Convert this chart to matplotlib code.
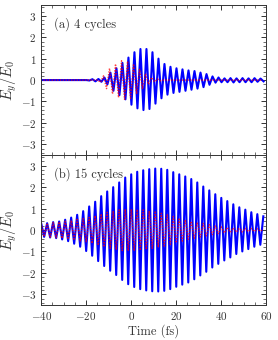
import numpy as np
import matplotlib
matplotlib.use("Agg")
import matplotlib.pyplot as plt
from matplotlib.ticker import MultipleLocator

plt.rcParams['font.family'] = 'serif'
plt.rcParams['font.serif'] = ['cmr10']
plt.rcParams['mathtext.fontset'] = 'cm'
plt.rcParams['axes.formatter.use_mathtext'] = True

# Field extrema (|E_y|/E_0), one value per half cycle
half_period = 1.335  # fs (800 nm carrier)

# (a) 4 cycles, first extremum at -39.9 fs is a trough
a_t0 = -39.9
a_blue = [0.0] * 16 + [
    0.02, 0.04, 0.06, 0.05, 0.08, 0.12, 0.20, 0.35, 0.50, 0.55,
    0.70, 0.80, 0.90, 1.05, 1.15, 1.30, 1.32, 1.45, 1.40, 1.45,
    1.35, 1.30, 1.10, 1.00, 0.85, 0.75, 0.68, 0.62, 0.60, 0.55,
    0.55, 0.50, 0.50, 0.45, 0.45, 0.42, 0.40, 0.35, 0.33, 0.28,
    0.22, 0.17, 0.12, 0.12, 0.10,
    0.08, 0.10, 0.09, 0.11, 0.08, 0.10, 0.09, 0.10, 0.08, 0.10,
    0.09, 0.08, 0.07, 0.06]
a_red = [0.0] * 20 + [
    0.10, 0.20, 0.40, 0.55, 0.65, 0.75, 0.82, 0.90, 0.90, 0.88,
    0.85, 0.75, 0.65, 0.50, 0.40, 0.30, 0.20, 0.12, 0.08, 0.05,
    0.03] + [0.0] * 34

# (b) 15 cycles, first extremum at -40 fs is a crest
b_t0 = -40.0
b_blue = [
    0.32, 0.32, 0.32, 0.35, 0.37, 0.38, 0.40, 0.44, 0.48, 0.52,
    0.58, 0.64, 0.71, 0.78, 0.88, 0.98, 1.10, 1.20, 1.32, 1.45,
    1.58, 1.68, 1.80, 1.90, 2.00, 2.10, 2.22, 2.33, 2.45, 2.53,
    2.60, 2.66, 2.72, 2.76, 2.79, 2.82, 2.84, 2.86, 2.87, 2.87,
    2.86, 2.84, 2.81, 2.76, 2.70, 2.65, 2.60, 2.55, 2.50, 2.45,
    2.38, 2.30, 2.22, 2.12, 2.03, 1.95, 1.85, 1.75, 1.67, 1.58,
    1.50, 1.42, 1.35, 1.28, 1.20, 1.12, 1.06, 1.00, 0.95, 0.89,
    0.83, 0.78, 0.74, 0.69, 0.64]
b_red = [
    0.30, 0.31, 0.32, 0.34, 0.35, 0.36, 0.38, 0.39, 0.41, 0.43,
    0.45, 0.47, 0.49, 0.51, 0.53, 0.55, 0.59, 0.63, 0.67, 0.71,
    0.75, 0.79, 0.83, 0.86, 0.89, 0.92, 0.94, 0.96, 0.97, 0.97,
    0.97, 0.97, 0.96, 0.95, 0.94, 0.91, 0.89, 0.86, 0.84, 0.81,
    0.78, 0.75, 0.71, 0.67, 0.63, 0.60, 0.56, 0.52, 0.48, 0.44,
    0.41, 0.39, 0.36, 0.33, 0.31, 0.28, 0.25, 0.22, 0.19, 0.17,
    0.15, 0.14, 0.12, 0.11, 0.10, 0.10, 0.09, 0.09, 0.08, 0.08,
    0.07, 0.07, 0.06, 0.06, 0.05]

panels = [
    ("(a) 4 cycles", a_t0, -1, a_blue, a_red, -0.4),
    ("(b) 15 cycles", b_t0, 1, b_blue, b_red, 0.0),
]


def trace(t0, first_sign, amps, shift=0.0):
    amps = np.asarray(amps)
    t = t0 + shift + half_period * np.arange(len(amps))
    sign = first_sign * (-1.0) ** np.arange(len(amps))
    return t, sign * amps


fig = plt.figure(figsize=(2.78, 3.40), dpi=100)
gs = fig.add_gridspec(2, 1, left=0.148, right=0.957, top=0.985, bottom=0.103, hspace=0)
axes = [fig.add_subplot(gs[0]), fig.add_subplot(gs[1])]

for ax, (label, t0, s0, blue, red, rshift) in zip(axes, panels):
    tb, yb = trace(t0, s0, blue)
    tr, yr = trace(t0, s0, red, rshift)
    ax.plot(tb, yb, color='#0000ff', lw=1.5, solid_joinstyle='round')
    ax.plot(tr, yr, color='red', lw=1.0, ls=(0, (1, 1)), alpha=0.75)
    ax.set_xlim(-40, 60)
    ax.set_ylim(-3.5, 3.5)
    ax.xaxis.set_major_locator(MultipleLocator(20))
    ax.xaxis.set_minor_locator(MultipleLocator(5))
    ax.yaxis.set_major_locator(MultipleLocator(1))
    ax.yaxis.set_minor_locator(MultipleLocator(0.2))
    ax.tick_params(which='both', direction='in', top=True, right=True,
                   labelsize=8, color='#333333', labelcolor='#333333')
    ax.tick_params(which='major', length=3.5, width=0.7)
    ax.tick_params(which='minor', length=2, width=0.5)
    for sp in ax.spines.values():
        sp.set_linewidth(0.7)
        sp.set_color('#333333')
    ax.set_ylabel(r'$E_y/E_0$', fontsize=10.5, labelpad=1, color='#333333')
    ax.text(0.055, 0.92, label, transform=ax.transAxes, ha='left', va='top',
            fontsize=9, color='#333333')

axes[0].tick_params(labelbottom=False)
axes[1].set_xlabel('Time (fs)', fontsize=9, labelpad=2, color='#333333')

fig.savefig('out.png', dpi=100)
